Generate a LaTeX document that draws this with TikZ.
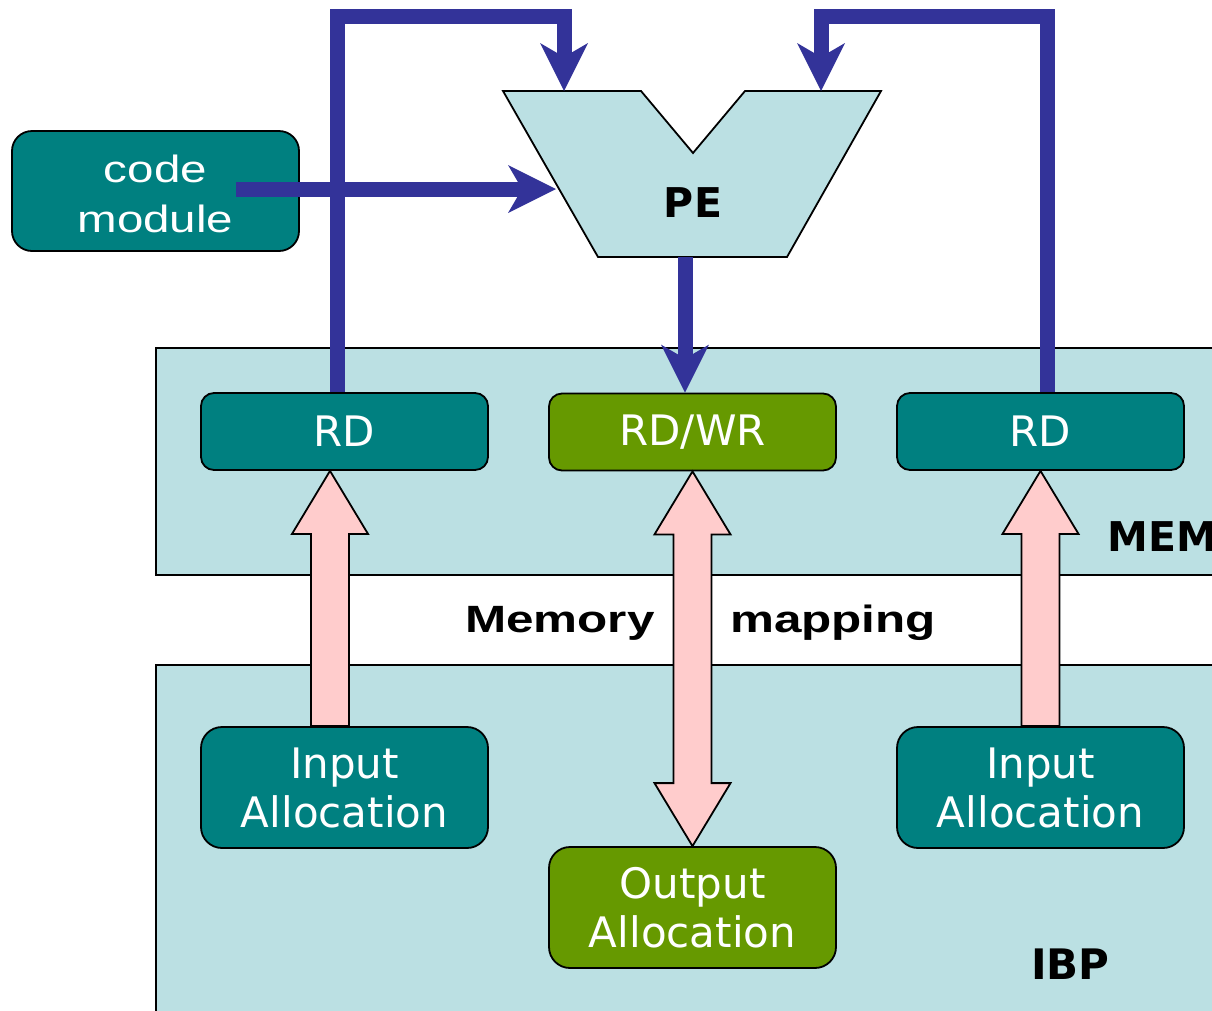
\documentclass[tikz,border=0pt]{standalone}
\usepackage{fontspec}
\usepackage{graphicx}
\setmainfont{DejaVu Sans}
\newfontfamily\arialfont{Liberation Sans}
\usetikzlibrary{arrows.meta,calc}
\definecolor{bglight}{HTML}{BBE0E3}
\definecolor{tealc}{HTML}{008080}
\definecolor{greenc}{HTML}{669900}
\definecolor{bluec}{HTML}{333399}
\definecolor{pinkc}{HTML}{FFCCCC}
\begin{document}
\begin{tikzpicture}[x=1pt,y=-1pt,
  region/.style={draw=black,line width=2pt,fill=bglight},
  boxbase/.style={draw=black,line width=1.8pt,text=white,align=center,inner sep=0pt,
    font=\fontsize{42}{49}\selectfont},
  tealbox/.style={boxbase,fill=tealc},
  greenbox/.style={boxbase,fill=greenc},
  smallbox/.style={minimum width=287pt,minimum height=77pt,rounded corners=13pt},
  bigbox/.style={minimum width=287pt,minimum height=121pt,rounded corners=21pt},
  pinkarrow/.style={draw=black,line width=1.8pt,fill=pinkc,line join=miter},
  bluearrow/.style={draw=bluec,line width=15pt,line join=miter,
    -{Stealth[length=48pt,width=48pt,inset=14pt,line width=0pt]}},
  boldlabel/.style={inner sep=0pt,font=\bfseries\fontsize{41}{49}\selectfont},
  maplabel/.style={inner sep=0pt,anchor=base west}
]
\useasboundingbox (0,0) rectangle (1212,1010);
\clip (0,0) rectangle (1212,1010);

% regions
\draw[region] (156,348) rectangle (1240,575);
\draw[region] (156,665) rectangle (1240,1040);

% boxes
\node[tealbox,smallbox] (rdL) at (344.5,431.5) {RD};
\node[greenbox,smallbox] (rwr) at (692.5,432) {RD/WR};
\node[tealbox,smallbox] (rdR) at (1040.5,431.5) {RD};
\node[tealbox,bigbox] (inL) at (344.5,787.5) {Input\\Allocation};
\node[tealbox,bigbox] (inR) at (1040.5,787.5) {Input\\Allocation};
\node[greenbox,bigbox] (out) at (692.5,907.5) {Output\\Allocation};
\node[tealbox,minimum width=287pt,minimum height=120pt,rounded corners=20pt] (code) at (155.5,191)
  {\arialfont\fontsize{38}{50}\selectfont\scalebox{1.25}[1]{\begin{tabular}{@{}c@{}}\rule{0pt}{47pt}code\\module\end{tabular}}};

% pink arrows
\coordinate (aL) at ($(rdL.south)+(-14.5,0)$);
\coordinate (bL) at (aL |- inL.north);
\coordinate (aR) at (rdR.south);
\coordinate (bR) at (aR |- inR.north);
\coordinate (aM) at (rwr.south);
\coordinate (bM) at (aM |- out.north);
\draw[pinkarrow] (aL) -- ($(aL)+(38,63)$) -- ($(aL)+(19,63)$) -- ($(bL)+(19,0)$)
  -- ($(bL)+(-19,0)$) -- ($(aL)+(-19,63)$) -- ($(aL)+(-38,63)$) -- cycle;
\draw[pinkarrow] (aR) -- ($(aR)+(38,63)$) -- ($(aR)+(19,63)$) -- ($(bR)+(19,0)$)
  -- ($(bR)+(-19,0)$) -- ($(aR)+(-19,63)$) -- ($(aR)+(-38,63)$) -- cycle;
\draw[pinkarrow] (aM) -- ($(aM)+(38,63)$) -- ($(aM)+(19,63)$) -- ($(bM)+(19,-63)$)
  -- ($(bM)+(38,-63)$) -- (bM) -- ($(bM)+(-38,-63)$) -- ($(bM)+(-19,-63)$)
  -- ($(aM)+(-19,63)$) -- ($(aM)+(-38,63)$) -- cycle;

% PE
\draw[draw=black,line width=1.8pt,fill=bglight] (503,91) -- (641,91) -- (693,153) -- (745,91)
  -- (881,91) -- (787,257) -- (598,257) -- cycle;
\node[boldlabel] (pe) at (693,203) {PE};
\coordinate (pinL) at (564,91);
\coordinate (pinR) at (821,91);
\coordinate (pinC) at (556,189);
\coordinate (pout) at (685,257);
\coordinate (topL) at (564,16);
\coordinate (topR) at (821,16);
\coordinate (codeout) at (236,189);

% blue arrows
\draw[bluearrow] ($(rdL.north)+(-7,0)$) |- (topL) -- (pinL);
\draw[bluearrow] ($(rdR.north)+(7,0)$) |- (topR) -- (pinR);
\draw[bluearrow] (codeout) -- (pinC);
\draw[bluearrow] (pout) -- (pout |- rwr.north);

% labels
\node[boldlabel,anchor=base west] (mem) at (1107,551) {MEM};
\node[boldlabel,anchor=base west,font=\bfseries\fontsize{42}{49}\selectfont] (ibp) at (1031,979) {IBP};
\node[maplabel] (memory) at (465,632) {\arialfont\bfseries\fontsize{38}{46}\selectfont\scalebox{1.3}[1]{Memory}};
\node[maplabel] (mapping) at (730,632) {\arialfont\bfseries\fontsize{38}{46}\selectfont\scalebox{1.3}[1]{mapping}};
\end{tikzpicture}
\end{document}
